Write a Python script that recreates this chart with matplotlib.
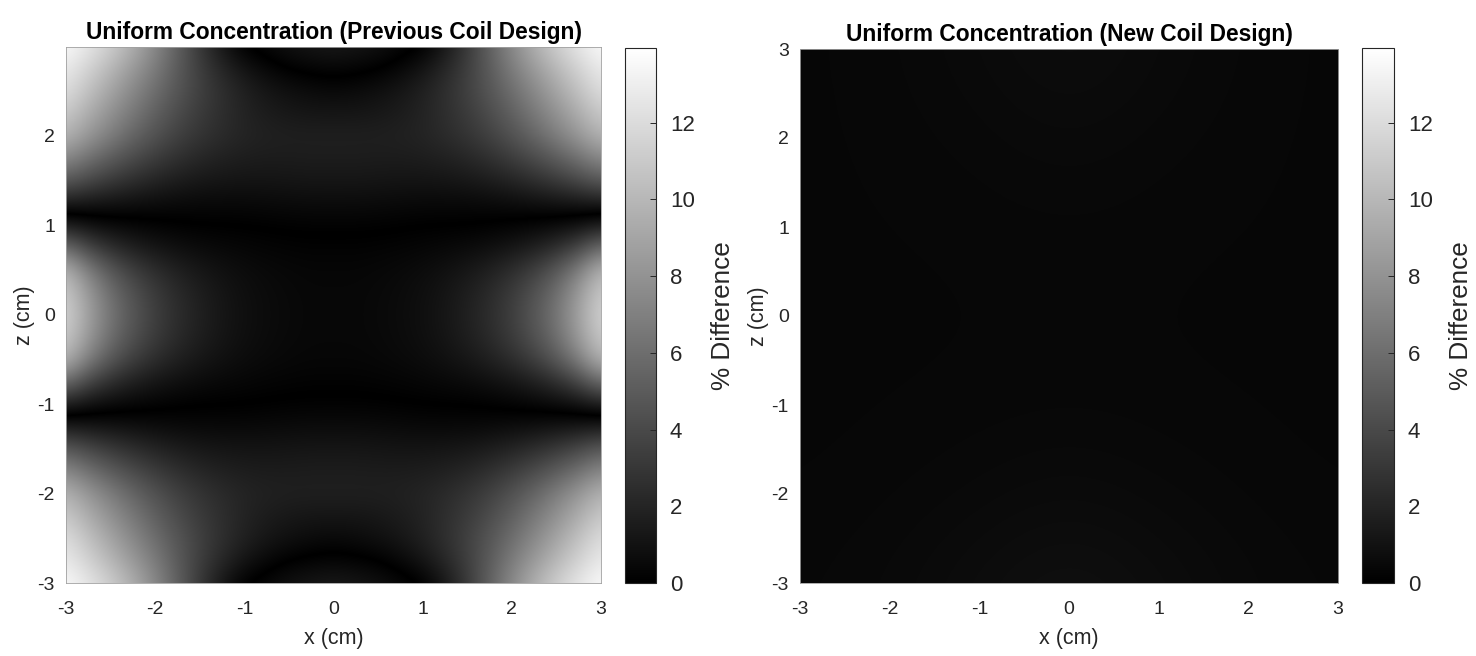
import numpy as np
import matplotlib
matplotlib.use("Agg")
import matplotlib.pyplot as plt
from matplotlib.colors import LinearSegmentedColormap, Normalize
from matplotlib.cm import ScalarMappable

plt.rcParams['font.family'] = ['Liberation Sans', 'DejaVu Sans']

# ---------------- data ----------------
titles = ["Uniform Concentration (Previous Coil Design)",
          "Uniform Concentration (New Coil Design)"]
cbar_label = "% Difference"
cbar_max = 13.95
cbar_ticks = [0, 2, 4, 6, 8, 10, 12]
x_ticks = [-3, -2, -1, 0, 1, 2, 3]

# Previous design: signed deviation (%) on one quadrant, x = 0..3, z = 0..3 (step 0.25)
# rows: z ascending, columns: x ascending; the map is mirror-symmetric in x and z
quad_coords = [0, 0.25, 0.5, 0.75, 1.0, 1.25, 1.5, 1.75, 2.0, 2.25, 2.5, 2.75, 3.0]
prev_z000 = [0.40, 0.40, 0.50, 0.62, 0.85, 1.20, 1.75, 2.45, 3.40, 4.70, 6.40, 8.80, 11.50]
prev_z025 = [0.40, 0.40, 0.47, 0.60, 0.80, 1.15, 1.65, 2.30, 3.20, 4.40, 6.00, 8.40, 11.00]
prev_z050 = [0.34, 0.34, 0.40, 0.50, 0.66, 0.90, 1.26, 1.75, 2.45, 3.40, 4.80, 6.90, 9.80]
prev_z075 = [0.16, 0.16, 0.20, 0.25, 0.34, 0.45, 0.60, 0.84, 1.18, 1.70, 2.50, 3.80, 6.00]
prev_z100 = [-0.12, -0.12, -0.09, -0.04, 0.00, 0.02, 0.03, 0.10, 0.22, 0.38, 0.60, 0.95, 1.65]
prev_z125 = [-0.62, -0.62, -0.58, -0.53, -0.48, -0.47, -0.48, -0.55, -0.68, -0.85, -1.05, -1.25, -1.55]
prev_z150 = [-1.20, -1.20, -1.16, -1.11, -1.11, -1.17, -1.30, -1.58, -1.96, -2.50, -3.12, -3.92, -4.90]
prev_z175 = [-1.58, -1.58, -1.54, -1.54, -1.60, -1.78, -2.10, -2.60, -3.27, -4.07, -5.05, -6.20, -7.55]
prev_z200 = [-1.72, -1.72, -1.72, -1.78, -1.97, -2.34, -2.84, -3.54, -4.45, -5.55, -6.85, -8.25, -9.80]
prev_z225 = [-1.18, -1.18, -1.30, -1.53, -1.90, -2.50, -3.20, -4.12, -5.25, -6.55, -7.95, -9.45, -11.00]
prev_z250 = [-0.52, -0.64, -0.86, -1.20, -1.78, -2.55, -3.52, -4.68, -5.98, -7.45, -8.98, -10.55, -12.10]
prev_z275 = [0.33, 0.22, 0.00, -0.44, -1.10, -2.12, -3.38, -4.98, -6.75, -8.40, -10.00, -11.50, -12.80]
prev_z300 = [1.37, 1.20, 0.93, 0.49, 0.05, -1.22, -3.05, -5.30, -7.50, -9.55, -11.25, -12.60, -13.70]

# New design: deviation (%) on x = -3..3, z = -3..3 (step 1), rows z ascending
new_coords = [-3, -2, -1, 0, 1, 2, 3]
new_zm3 = [0.42, 0.50, 0.70, 0.90, 0.70, 0.50, 0.42]
new_zm2 = [0.38, 0.42, 0.50, 0.60, 0.50, 0.42, 0.38]
new_zm1 = [0.36, 0.38, 0.40, 0.42, 0.40, 0.38, 0.36]
new_z0 = [0.36, 0.36, 0.38, 0.38, 0.38, 0.36, 0.36]
new_zp1 = [0.36, 0.38, 0.40, 0.42, 0.40, 0.38, 0.36]
new_zp2 = [0.36, 0.40, 0.46, 0.55, 0.46, 0.40, 0.36]
new_zp3 = [0.36, 0.42, 0.55, 0.75, 0.55, 0.42, 0.36]

# ---------------- build arrays ----------------
quad = np.array([prev_z000, prev_z025, prev_z050, prev_z075, prev_z100, prev_z125,
                 prev_z150, prev_z175, prev_z200, prev_z225, prev_z250, prev_z275,
                 prev_z300])
half = np.hstack([quad[:, :0:-1], quad])
prev_full = np.vstack([half[:0:-1], half])
new_full = np.array([new_zm3, new_zm2, new_zm1, new_z0, new_zp1, new_zp2, new_zp3])

qs = quad_coords[1] - quad_coords[0]
ext_prev = [-quad_coords[-1] - qs / 2, quad_coords[-1] + qs / 2,
            -quad_coords[-1] - qs / 2, quad_coords[-1] + qs / 2]
ns = new_coords[1] - new_coords[0]
ext_new = [new_coords[0] - ns / 2, new_coords[-1] + ns / 2,
           new_coords[0] - ns / 2, new_coords[-1] + ns / 2]

# symmetric gray map: |value| -> MATLAB-like gray
vgray = LinearSegmentedColormap.from_list('vgray', ['white', 'black', 'white'], N=1024)

W, H = 1476, 656
fig = plt.figure(figsize=(W / 100, H / 100), dpi=100)

def px(x0, y_top, w, h):
    return [x0 / W, (H - y_top - h) / H, w / W, h / H]

ax1 = fig.add_axes(px(66, 47, 535, 536))
cax1 = fig.add_axes(px(625, 48, 31, 535))
ax2 = fig.add_axes(px(800, 49, 538, 534))
cax2 = fig.add_axes(px(1362, 48, 32, 535))

tick_fs = 14
label_fs = 15.5
title_fs = 16.4
cb_fs = 16
cb_label_fs = 18.8

for ax, data, ext, title, ytop, yt in [
        (ax1, prev_full, ext_prev, titles[0], 2.99, [-3, -2, -1, 0, 1, 2]),
        (ax2, new_full, ext_new, titles[1], 3.0, [-3, -2, -1, 0, 1, 2, 3])]:
    ax.imshow(data, origin='lower', extent=ext, cmap=vgray,
              vmin=-cbar_max, vmax=cbar_max, interpolation='bicubic',
              interpolation_stage='data', aspect='auto')
    ax.set_xlim(-3, 3)
    ax.set_ylim(-3, ytop)
    ax.set_xticks(x_ticks)
    ax.set_yticks(yt)
    ax.set_xticklabels([str(v) for v in x_ticks], fontsize=tick_fs, color='#262626')
    ax.set_yticklabels([str(v) for v in yt], fontsize=tick_fs, color='#262626')
    ax.tick_params(axis='x', length=0, pad=13)
    ax.tick_params(axis='y', length=0, pad=8)
    for sp in ax.spines.values():
        sp.set_color('#a0a0a0')
        sp.set_linewidth(0.6)
    ax.set_xlabel('x (cm)', fontsize=label_fs, color='#262626', labelpad=7)
    ax.set_ylabel('z (cm)', fontsize=label_fs, color='#262626', labelpad=2)
    ax.set_title(title, fontsize=title_fs, fontweight='bold', pad=6)

for cax in (cax1, cax2):
    sm = ScalarMappable(norm=Normalize(0, cbar_max), cmap='gray')
    cb = fig.colorbar(sm, cax=cax)
    cb.set_ticks(cbar_ticks)
    cb.ax.tick_params(direction='in', length=4, width=0.7, labelsize=cb_fs,
                      pad=10, colors='#262626')
    cb.outline.set_linewidth(0.8)
    cb.outline.set_edgecolor('#262626')
    cb.set_label(cbar_label, fontsize=cb_label_fs, color='#262626', labelpad=12)

fig.savefig('out.png', dpi=100)
